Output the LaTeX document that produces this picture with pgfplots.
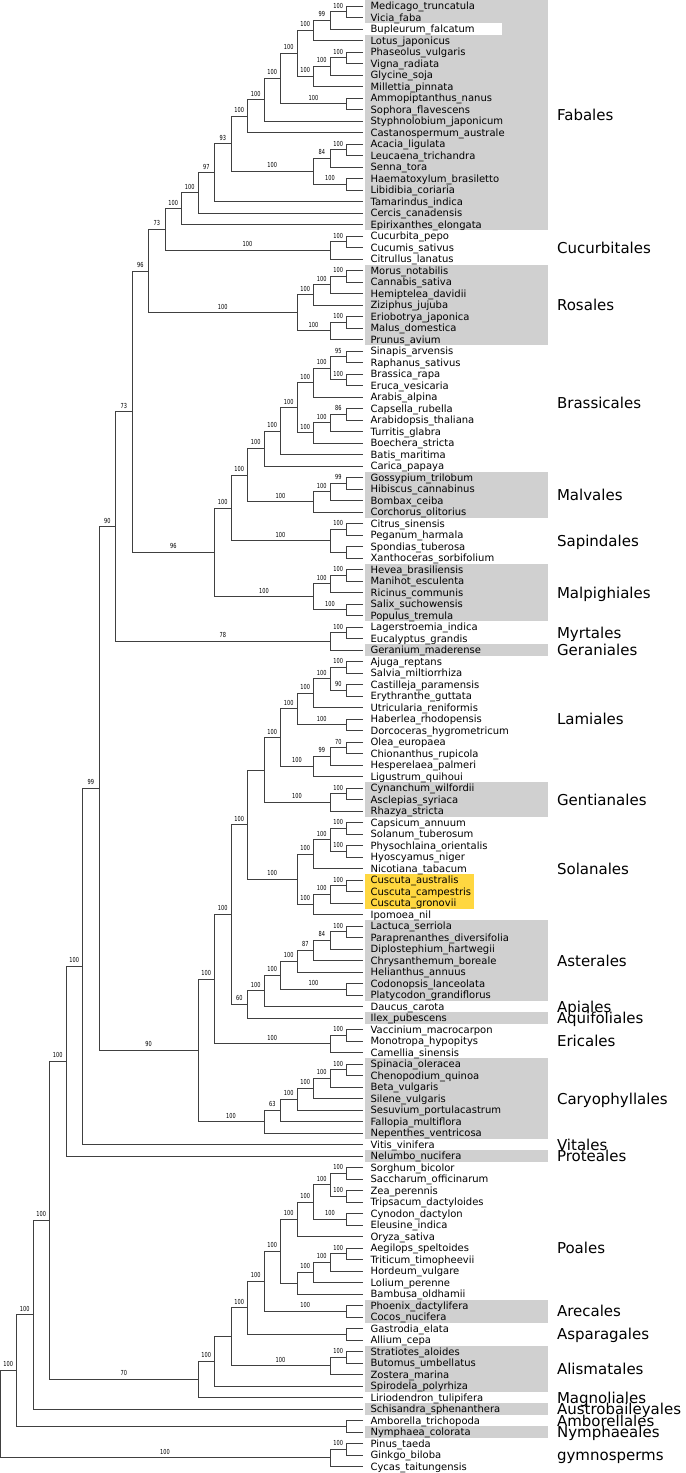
\documentclass[border=0pt]{standalone}
\usepackage{pgfplots}
\pgfplotsset{compat=1.18}
\usepackage{fontspec}
\setmainfont{DejaVu Sans}
\newfontfamily\bsfam[FakeStretch=0.73]{DejaVu Sans}
\definecolor{boxgray}{HTML}{D0D0D0}
\definecolor{boxgold}{HTML}{FFD740}
\definecolor{treecol}{HTML}{404040}
\tikzset{
 leaf/.style={anchor=base west, inner sep=0pt, outer sep=0pt, font=\fontsize{10}{12}\selectfont, yshift=-3.6pt},
 bsl/.style={anchor=south, inner sep=0pt, outer sep=0pt, font=\bsfam\fontsize{6.9}{8}\selectfont, yshift=3.5pt},
 ord/.style={anchor=base west, inner sep=0pt, outer sep=0pt, font=\fontsize{15}{18}\selectfont, yshift=-5.5pt},
}
\newcommand{\lf}[2]{\node[leaf] at (axis cs:22.46,#1) {#2};}
\newcommand{\bs}[3]{\node[bsl] at (axis cs:#1,#2) {#3};}
\newcommand{\od}[2]{\node[ord] at (axis cs:33.76,#1) {#2};}
\newcommand{\bx}[5]{\addplot[fill=#5, draw=none, forget plot] coordinates {(#1,#3) (#2,#3) (#2,#4) (#1,#4)} -- cycle;}
\begin{document}
\begin{tikzpicture}
\begin{axis}[width=685pt, height=1473pt, scale only axis, xmin=0, xmax=41.5152, ymin=0.4783, ymax=128.5652, y dir=reverse, hide axis, clip=false, unbounded coords=jump]
% boxes
\bx{22.12}{33.21}{0.5}{20.5}{boxgray}
\bx{22.12}{30.42}{2.5}{3.5}{white}
\bx{22.12}{33.21}{23.5}{30.5}{boxgray}
\bx{22.12}{33.21}{41.5}{45.5}{boxgray}
\bx{22.12}{33.21}{49.5}{54.5}{boxgray}
\bx{22.12}{33.21}{56.5}{57.5}{boxgray}
\bx{22.12}{33.21}{68.5}{71.5}{boxgray}
\bx{22.12}{28.73}{76.5}{79.5}{boxgold}
\bx{22.12}{33.21}{80.5}{87.5}{boxgray}
\bx{22.12}{33.21}{88.5}{89.5}{boxgray}
\bx{22.12}{33.21}{92.5}{99.5}{boxgray}
\bx{22.12}{33.21}{100.5}{101.5}{boxgray}
\bx{22.12}{33.21}{113.5}{115.5}{boxgray}
\bx{22.12}{33.21}{117.5}{121.5}{boxgray}
\bx{22.12}{33.21}{122.5}{123.5}{boxgray}
\bx{22.12}{33.21}{124.5}{125.5}{boxgray}
% tree
\addplot[color=treecol, line width=1pt, mark=none, forget plot] table[row sep=\\] {
x y\\
22 1\\ 21 1\\ 21 2\\ 22 2\\ nan nan\\
21 1.5\\ 20 1.5\\ 20 3\\ 22 3\\ nan nan\\
20 2.25\\ 19 2.25\\ 19 4\\ 22 4\\ nan nan\\
22 5\\ 21 5\\ 21 6\\ 22 6\\ nan nan\\
21 5.5\\ 20 5.5\\ 20 7\\ 22 7\\ nan nan\\
20 6.25\\ 19 6.25\\ 19 8\\ 22 8\\ nan nan\\
19 3.125\\ 18 3.125\\ 18 7.125\\ 19 7.125\\ nan nan\\
22 9\\ 21 9\\ 21 10\\ 22 10\\ nan nan\\
18 5.125\\ 17 5.125\\ 17 9.5\\ 21 9.5\\ nan nan\\
17 7.3125\\ 16 7.3125\\ 16 11\\ 22 11\\ nan nan\\
16 9.156\\ 15 9.156\\ 15 12\\ 22 12\\ nan nan\\
22 13\\ 21 13\\ 21 14\\ 22 14\\ nan nan\\
21 13.5\\ 20 13.5\\ 20 15\\ 22 15\\ nan nan\\
22 16\\ 21 16\\ 21 17\\ 22 17\\ nan nan\\
20 14.25\\ 19 14.25\\ 19 16.5\\ 21 16.5\\ nan nan\\
15 10.578\\ 14 10.578\\ 14 15.375\\ 19 15.375\\ nan nan\\
14 12.977\\ 13 12.977\\ 13 18\\ 22 18\\ nan nan\\
13 15.488\\ 12 15.488\\ 12 19\\ 22 19\\ nan nan\\
12 17.244\\ 11 17.244\\ 11 20\\ 22 20\\ nan nan\\
22 21\\ 21 21\\ 21 22\\ 22 22\\ nan nan\\
21 21.5\\ 20 21.5\\ 20 23\\ 22 23\\ nan nan\\
11 18.622\\ 10 18.622\\ 10 22.25\\ 20 22.25\\ nan nan\\
22 24\\ 21 24\\ 21 25\\ 22 25\\ nan nan\\
21 24.5\\ 20 24.5\\ 20 26\\ 22 26\\ nan nan\\
20 25.25\\ 19 25.25\\ 19 27\\ 22 27\\ nan nan\\
22 28\\ 21 28\\ 21 29\\ 22 29\\ nan nan\\
21 28.5\\ 20 28.5\\ 20 30\\ 22 30\\ nan nan\\
19 26.125\\ 18 26.125\\ 18 29.25\\ 20 29.25\\ nan nan\\
10 20.436\\ 9 20.436\\ 9 27.688\\ 18 27.688\\ nan nan\\
22 31\\ 21 31\\ 21 32\\ 22 32\\ nan nan\\
22 33\\ 21 33\\ 21 34\\ 22 34\\ nan nan\\
21 31.5\\ 20 31.5\\ 20 33.5\\ 21 33.5\\ nan nan\\
20 32.5\\ 19 32.5\\ 19 35\\ 22 35\\ nan nan\\
22 36\\ 21 36\\ 21 37\\ 22 37\\ nan nan\\
21 36.5\\ 20 36.5\\ 20 38\\ 22 38\\ nan nan\\
20 37.25\\ 19 37.25\\ 19 39\\ 22 39\\ nan nan\\
19 33.75\\ 18 33.75\\ 18 38.125\\ 19 38.125\\ nan nan\\
18 35.938\\ 17 35.938\\ 17 40\\ 22 40\\ nan nan\\
17 37.969\\ 16 37.969\\ 16 41\\ 22 41\\ nan nan\\
22 42\\ 21 42\\ 21 43\\ 22 43\\ nan nan\\
21 42.5\\ 20 42.5\\ 20 44\\ 22 44\\ nan nan\\
20 43.25\\ 19 43.25\\ 19 45\\ 22 45\\ nan nan\\
16 39.484\\ 15 39.484\\ 15 44.125\\ 19 44.125\\ nan nan\\
22 46\\ 21 46\\ 21 47\\ 22 47\\ nan nan\\
22 48\\ 21 48\\ 21 49\\ 22 49\\ nan nan\\
21 46.5\\ 20 46.5\\ 20 48.5\\ 21 48.5\\ nan nan\\
15 41.805\\ 14 41.805\\ 14 47.5\\ 20 47.5\\ nan nan\\
22 50\\ 21 50\\ 21 51\\ 22 51\\ nan nan\\
21 50.5\\ 20 50.5\\ 20 52\\ 22 52\\ nan nan\\
22 53\\ 21 53\\ 21 54\\ 22 54\\ nan nan\\
20 51.25\\ 19 51.25\\ 19 53.5\\ 21 53.5\\ nan nan\\
14 44.652\\ 13 44.652\\ 13 52.375\\ 19 52.375\\ nan nan\\
9 24.062\\ 8 24.062\\ 8 48.514\\ 13 48.514\\ nan nan\\
22 55\\ 21 55\\ 21 56\\ 22 56\\ nan nan\\
21 55.5\\ 20 55.5\\ 20 57\\ 22 57\\ nan nan\\
8 36.288\\ 7 36.288\\ 7 56.25\\ 20 56.25\\ nan nan\\
22 58\\ 21 58\\ 21 59\\ 22 59\\ nan nan\\
22 60\\ 21 60\\ 21 61\\ 22 61\\ nan nan\\
21 58.5\\ 20 58.5\\ 20 60.5\\ 21 60.5\\ nan nan\\
20 59.5\\ 19 59.5\\ 19 62\\ 22 62\\ nan nan\\
22 63\\ 21 63\\ 21 64\\ 22 64\\ nan nan\\
19 60.75\\ 18 60.75\\ 18 63.5\\ 21 63.5\\ nan nan\\
22 65\\ 21 65\\ 21 66\\ 22 66\\ nan nan\\
21 65.5\\ 20 65.5\\ 20 67\\ 22 67\\ nan nan\\
20 66.25\\ 19 66.25\\ 19 68\\ 22 68\\ nan nan\\
18 62.125\\ 17 62.125\\ 17 67.125\\ 19 67.125\\ nan nan\\
22 69\\ 21 69\\ 21 70\\ 22 70\\ nan nan\\
21 69.5\\ 20 69.5\\ 20 71\\ 22 71\\ nan nan\\
17 64.625\\ 16 64.625\\ 16 70.25\\ 20 70.25\\ nan nan\\
22 72\\ 21 72\\ 21 73\\ 22 73\\ nan nan\\
22 74\\ 21 74\\ 21 75\\ 22 75\\ nan nan\\
21 72.5\\ 20 72.5\\ 20 74.5\\ 21 74.5\\ nan nan\\
20 73.5\\ 19 73.5\\ 19 76\\ 22 76\\ nan nan\\
22 77\\ 21 77\\ 21 78\\ 22 78\\ nan nan\\
21 77.5\\ 20 77.5\\ 20 79\\ 22 79\\ nan nan\\
20 78.25\\ 19 78.25\\ 19 80\\ 22 80\\ nan nan\\
19 74.75\\ 18 74.75\\ 18 79.125\\ 19 79.125\\ nan nan\\
16 67.438\\ 15 67.438\\ 15 76.938\\ 18 76.938\\ nan nan\\
22 81\\ 21 81\\ 21 82\\ 22 82\\ nan nan\\
21 81.5\\ 20 81.5\\ 20 83\\ 22 83\\ nan nan\\
20 82.25\\ 19 82.25\\ 19 84\\ 22 84\\ nan nan\\
19 83.125\\ 18 83.125\\ 18 85\\ 22 85\\ nan nan\\
22 86\\ 21 86\\ 21 87\\ 22 87\\ nan nan\\
18 84.062\\ 17 84.062\\ 17 86.5\\ 21 86.5\\ nan nan\\
17 85.281\\ 16 85.281\\ 16 88\\ 22 88\\ nan nan\\
16 86.641\\ 15 86.641\\ 15 89\\ 22 89\\ nan nan\\
15 72.188\\ 14 72.188\\ 14 87.820\\ 15 87.820\\ nan nan\\
22 90\\ 21 90\\ 21 91\\ 22 91\\ nan nan\\
21 90.5\\ 20 90.5\\ 20 92\\ 22 92\\ nan nan\\
14 80.004\\ 13 80.004\\ 13 91.25\\ 20 91.25\\ nan nan\\
22 93\\ 21 93\\ 21 94\\ 22 94\\ nan nan\\
21 93.5\\ 20 93.5\\ 20 95\\ 22 95\\ nan nan\\
20 94.25\\ 19 94.25\\ 19 96\\ 22 96\\ nan nan\\
19 95.125\\ 18 95.125\\ 18 97\\ 22 97\\ nan nan\\
18 96.062\\ 17 96.062\\ 17 98\\ 22 98\\ nan nan\\
17 97.031\\ 16 97.031\\ 16 99\\ 22 99\\ nan nan\\
13 85.627\\ 12 85.627\\ 12 98.016\\ 16 98.016\\ nan nan\\
7 46.269\\ 6 46.269\\ 6 91.821\\ 12 91.821\\ nan nan\\
6 69.045\\ 5 69.045\\ 5 100\\ 22 100\\ nan nan\\
5 84.523\\ 4 84.523\\ 4 101\\ 22 101\\ nan nan\\
22 102\\ 21 102\\ 21 103\\ 22 103\\ nan nan\\
22 104\\ 21 104\\ 21 105\\ 22 105\\ nan nan\\
21 102.5\\ 20 102.5\\ 20 104.5\\ 21 104.5\\ nan nan\\
22 106\\ 21 106\\ 21 107\\ 22 107\\ nan nan\\
20 103.5\\ 19 103.5\\ 19 106.5\\ 21 106.5\\ nan nan\\
19 105\\ 18 105\\ 18 108\\ 22 108\\ nan nan\\
22 109\\ 21 109\\ 21 110\\ 22 110\\ nan nan\\
21 109.5\\ 20 109.5\\ 20 111\\ 22 111\\ nan nan\\
20 110.25\\ 19 110.25\\ 19 112\\ 22 112\\ nan nan\\
19 111.125\\ 18 111.125\\ 18 113\\ 22 113\\ nan nan\\
18 106.5\\ 17 106.5\\ 17 112.062\\ 18 112.062\\ nan nan\\
22 114\\ 21 114\\ 21 115\\ 22 115\\ nan nan\\
17 109.281\\ 16 109.281\\ 16 114.5\\ 21 114.5\\ nan nan\\
22 116\\ 21 116\\ 21 117\\ 22 117\\ nan nan\\
16 111.891\\ 15 111.891\\ 15 116.5\\ 21 116.5\\ nan nan\\
22 118\\ 21 118\\ 21 119\\ 22 119\\ nan nan\\
21 118.5\\ 20 118.5\\ 20 120\\ 22 120\\ nan nan\\
15 114.195\\ 14 114.195\\ 14 119.25\\ 20 119.25\\ nan nan\\
14 116.723\\ 13 116.723\\ 13 121\\ 22 121\\ nan nan\\
13 118.861\\ 12 118.861\\ 12 122\\ 22 122\\ nan nan\\
4 92.761\\ 3 92.761\\ 3 120.431\\ 12 120.431\\ nan nan\\
3 106.596\\ 2 106.596\\ 2 123\\ 22 123\\ nan nan\\
22 124\\ 21 124\\ 21 125\\ 22 125\\ nan nan\\
2 114.798\\ 1 114.798\\ 1 124.5\\ 21 124.5\\ nan nan\\
22 126\\ 21 126\\ 21 127\\ 22 127\\ nan nan\\
21 126.5\\ 20 126.5\\ 20 128\\ 22 128\\ nan nan\\
1 119.649\\ 0 119.649\\ 0 127.25\\ 20 127.25\\
};
% support values
\bs{20.5}{1.5}{100}\bs{19.5}{2.25}{99}\bs{18.5}{3.125}{100}\bs{20.5}{5.5}{100}
\bs{19.5}{6.25}{100}\bs{18.5}{7.125}{100}\bs{17.5}{5.125}{100}\bs{19}{9.5}{100}
\bs{16.5}{7.3125}{100}\bs{15.5}{9.156}{100}\bs{14.5}{10.578}{100}\bs{20.5}{13.5}{100}
\bs{19.5}{14.25}{84}\bs{20}{16.5}{100}\bs{16.5}{15.375}{100}\bs{13.5}{12.977}{93}
\bs{12.5}{15.488}{97}\bs{11.5}{17.244}{100}\bs{10.5}{18.622}{100}\bs{20.5}{21.5}{100}
\bs{15}{22.25}{100}\bs{9.5}{20.436}{73}\bs{20.5}{24.5}{100}\bs{19.5}{25.25}{100}
\bs{18.5}{26.125}{100}\bs{20.5}{28.5}{100}\bs{19}{29.25}{100}\bs{13.5}{27.688}{100}
\bs{8.5}{24.062}{96}\bs{20.5}{31.5}{95}\bs{20.5}{33.5}{100}\bs{19.5}{32.5}{100}
\bs{18.5}{33.75}{100}\bs{20.5}{36.5}{86}\bs{19.5}{37.25}{100}\bs{18.5}{38.125}{100}
\bs{17.5}{35.938}{100}\bs{16.5}{37.969}{100}\bs{15.5}{39.484}{100}\bs{20.5}{42.5}{99}
\bs{19.5}{43.25}{100}\bs{17}{44.125}{100}\bs{14.5}{41.805}{100}\bs{20.5}{46.5}{100}
\bs{17}{47.5}{100}\bs{13.5}{44.652}{100}\bs{20.5}{50.5}{100}\bs{19.5}{51.25}{100}
\bs{20}{53.5}{100}\bs{16}{52.375}{100}\bs{10.5}{48.514}{96}\bs{7.5}{36.288}{73}
\bs{20.5}{55.5}{100}\bs{13.5}{56.25}{78}\bs{6.5}{46.269}{90}\bs{20.5}{58.5}{100}
\bs{20.5}{60.5}{90}\bs{19.5}{59.5}{100}\bs{18.5}{60.75}{100}\bs{19.5}{63.5}{100}
\bs{17.5}{62.125}{100}\bs{20.5}{65.5}{70}\bs{19.5}{66.25}{99}\bs{18}{67.125}{100}
\bs{16.5}{64.625}{100}\bs{20.5}{69.5}{100}\bs{18}{70.25}{100}\bs{20.5}{72.5}{100}
\bs{20.5}{74.5}{100}\bs{19.5}{73.5}{100}\bs{18.5}{74.75}{100}\bs{20.5}{77.5}{100}
\bs{19.5}{78.25}{100}\bs{18.5}{79.125}{100}\bs{16.5}{76.938}{100}\bs{14.5}{72.188}{100}
\bs{20.5}{81.5}{100}\bs{19.5}{82.25}{84}\bs{18.5}{83.125}{87}\bs{17.5}{84.062}{100}
\bs{19}{86.5}{100}\bs{16.5}{85.281}{100}\bs{15.5}{86.641}{100}\bs{14.5}{87.820}{60}
\bs{13.5}{80.004}{100}\bs{20.5}{90.5}{100}\bs{16.5}{91.25}{100}\bs{12.5}{85.627}{100}
\bs{20.5}{93.5}{100}\bs{19.5}{94.25}{100}\bs{18.5}{95.125}{100}\bs{17.5}{96.062}{100}
\bs{16.5}{97.031}{63}\bs{14}{98.016}{100}\bs{9}{91.821}{90}\bs{5.5}{69.045}{99}
\bs{4.5}{84.523}{100}\bs{3.5}{92.761}{100}\bs{20.5}{102.5}{100}\bs{20.5}{104.5}{100}
\bs{19.5}{103.5}{100}\bs{20}{106.5}{100}\bs{18.5}{105}{100}\bs{17.5}{106.5}{100}
\bs{20.5}{109.5}{100}\bs{19.5}{110.25}{100}\bs{18.5}{111.125}{100}\bs{16.5}{109.281}{100}
\bs{18.5}{114.5}{100}\bs{15.5}{111.891}{100}\bs{14.5}{114.195}{100}\bs{20.5}{118.5}{100}
\bs{17}{119.25}{100}\bs{12.5}{118.861}{100}\bs{7.5}{120.431}{70}\bs{2.5}{106.596}{100}
\bs{1.5}{114.798}{100}\bs{0.5}{119.649}{100}\bs{20.5}{126.5}{100}\bs{10}{127.25}{100}
% leaf labels
\lf{1}{Medicago\_truncatula}\lf{2}{Vicia\_faba}\lf{3}{Bupleurum\_falcatum}\lf{4}{Lotus\_japonicus}
\lf{5}{Phaseolus\_vulgaris}\lf{6}{Vigna\_radiata}\lf{7}{Glycine\_soja}\lf{8}{Millettia\_pinnata}
\lf{9}{Ammopiptanthus\_nanus}\lf{10}{Sophora\_flavescens}\lf{11}{Styphnolobium\_japonicum}\lf{12}{Castanospermum\_australe}
\lf{13}{Acacia\_ligulata}\lf{14}{Leucaena\_trichandra}\lf{15}{Senna\_tora}\lf{16}{Haematoxylum\_brasiletto}
\lf{17}{Libidibia\_coriaria}\lf{18}{Tamarindus\_indica}\lf{19}{Cercis\_canadensis}\lf{20}{Epirixanthes\_elongata}
\lf{21}{Cucurbita\_pepo}\lf{22}{Cucumis\_sativus}\lf{23}{Citrullus\_lanatus}\lf{24}{Morus\_notabilis}
\lf{25}{Cannabis\_sativa}\lf{26}{Hemiptelea\_davidii}\lf{27}{Ziziphus\_jujuba}\lf{28}{Eriobotrya\_japonica}
\lf{29}{Malus\_domestica}\lf{30}{Prunus\_avium}\lf{31}{Sinapis\_arvensis}\lf{32}{Raphanus\_sativus}
\lf{33}{Brassica\_rapa}\lf{34}{Eruca\_vesicaria}\lf{35}{Arabis\_alpina}\lf{36}{Capsella\_rubella}
\lf{37}{Arabidopsis\_thaliana}\lf{38}{Turritis\_glabra}\lf{39}{Boechera\_stricta}\lf{40}{Batis\_maritima}
\lf{41}{Carica\_papaya}\lf{42}{Gossypium\_trilobum}\lf{43}{Hibiscus\_cannabinus}\lf{44}{Bombax\_ceiba}
\lf{45}{Corchorus\_olitorius}\lf{46}{Citrus\_sinensis}\lf{47}{Peganum\_harmala}\lf{48}{Spondias\_tuberosa}
\lf{49}{Xanthoceras\_sorbifolium}\lf{50}{Hevea\_brasiliensis}\lf{51}{Manihot\_esculenta}\lf{52}{Ricinus\_communis}
\lf{53}{Salix\_suchowensis}\lf{54}{Populus\_tremula}\lf{55}{Lagerstroemia\_indica}\lf{56}{Eucalyptus\_grandis}
\lf{57}{Geranium\_maderense}\lf{58}{Ajuga\_reptans}\lf{59}{Salvia\_miltiorrhiza}\lf{60}{Castilleja\_paramensis}
\lf{61}{Erythranthe\_guttata}\lf{62}{Utricularia\_reniformis}\lf{63}{Haberlea\_rhodopensis}\lf{64}{Dorcoceras\_hygrometricum}
\lf{65}{Olea\_europaea}\lf{66}{Chionanthus\_rupicola}\lf{67}{Hesperelaea\_palmeri}\lf{68}{Ligustrum\_quihoui}
\lf{69}{Cynanchum\_wilfordii}\lf{70}{Asclepias\_syriaca}\lf{71}{Rhazya\_stricta}\lf{72}{Capsicum\_annuum}
\lf{73}{Solanum\_tuberosum}\lf{74}{Physochlaina\_orientalis}\lf{75}{Hyoscyamus\_niger}\lf{76}{Nicotiana\_tabacum}
\lf{77}{Cuscuta\_australis}\lf{78}{Cuscuta\_campestris}\lf{79}{Cuscuta\_gronovii}\lf{80}{Ipomoea\_nil}
\lf{81}{Lactuca\_serriola}\lf{82}{Paraprenanthes\_diversifolia}\lf{83}{Diplostephium\_hartwegii}\lf{84}{Chrysanthemum\_boreale}
\lf{85}{Helianthus\_annuus}\lf{86}{Codonopsis\_lanceolata}\lf{87}{Platycodon\_grandiflorus}\lf{88}{Daucus\_carota}
\lf{89}{Ilex\_pubescens}\lf{90}{Vaccinium\_macrocarpon}\lf{91}{Monotropa\_hypopitys}\lf{92}{Camellia\_sinensis}
\lf{93}{Spinacia\_oleracea}\lf{94}{Chenopodium\_quinoa}\lf{95}{Beta\_vulgaris}\lf{96}{Silene\_vulgaris}
\lf{97}{Sesuvium\_portulacastrum}\lf{98}{Fallopia\_multiflora}\lf{99}{Nepenthes\_ventricosa}\lf{100}{Vitis\_vinifera}
\lf{101}{Nelumbo\_nucifera}\lf{102}{Sorghum\_bicolor}\lf{103}{Saccharum\_officinarum}\lf{104}{Zea\_perennis}
\lf{105}{Tripsacum\_dactyloides}\lf{106}{Cynodon\_dactylon}\lf{107}{Eleusine\_indica}\lf{108}{Oryza\_sativa}
\lf{109}{Aegilops\_speltoides}\lf{110}{Triticum\_timopheevii}\lf{111}{Hordeum\_vulgare}\lf{112}{Lolium\_perenne}
\lf{113}{Bambusa\_oldhamii}\lf{114}{Phoenix\_dactylifera}\lf{115}{Cocos\_nucifera}\lf{116}{Gastrodia\_elata}
\lf{117}{Allium\_cepa}\lf{118}{Stratiotes\_aloides}\lf{119}{Butomus\_umbellatus}\lf{120}{Zostera\_marina}
\lf{121}{Spirodela\_polyrhiza}\lf{122}{Liriodendron\_tulipifera}\lf{123}{Schisandra\_sphenanthera}\lf{124}{Amborella\_trichopoda}
\lf{125}{Nymphaea\_colorata}\lf{126}{Pinus\_taeda}\lf{127}{Ginkgo\_biloba}\lf{128}{Cycas\_taitungensis}
% order labels
\od{10.5}{Fabales}\od{22}{Cucurbitales}\od{27}{Rosales}\od{35.5}{Brassicales}
\od{43.5}{Malvales}\od{47.5}{Sapindales}\od{52}{Malpighiales}\od{55.5}{Myrtales}
\od{57}{Geraniales}\od{63}{Lamiales}\od{70}{Gentianales}\od{76}{Solanales}
\od{84}{Asterales}\od{88}{Apiales}\od{89}{Aquifoliales}\od{91}{Ericales}
\od{96}{Caryophyllales}\od{100}{Vitales}\od{101}{Proteales}\od{109}{Poales}
\od{114.5}{Arecales}\od{116.5}{Asparagales}\od{119.5}{Alismatales}\od{122}{Magnoliales}
\od{123}{Austrobaileyales}\od{124}{Amborellales}\od{125}{Nymphaeales}\od{127}{gymnosperms}
\end{axis}
\pgfresetboundingbox
\path (current axis.south west) rectangle (current axis.north east);
\end{tikzpicture}
\end{document}
